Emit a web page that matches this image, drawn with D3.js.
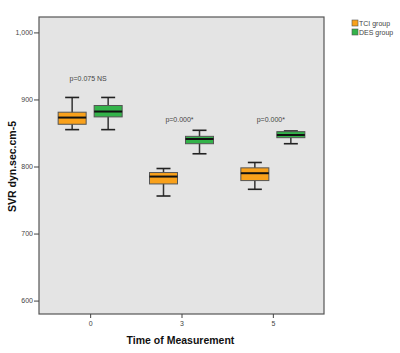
<!DOCTYPE html>
<html lang="en">
<head>
    <meta charset="UTF-8">
    <title>SVR by time of measurement</title>
    <script src="https://d3js.org/d3.v7.min.js"></script>
    <style>
        body { margin: 0; background: #fff; }
        .axis text { font-family: Arial, "Liberation Sans", sans-serif; font-size: 7px; fill: #444; }
        .axis path, .axis line { stroke: #444; }
        .title { font-family: Arial, "Liberation Sans", sans-serif; font-weight: bold; font-size: 10.5px; fill: #111; }
        .note { font-family: Arial, "Liberation Sans", sans-serif; font-size: 7px; fill: #444; }
    </style>
</head>
<body>
<svg width="400" height="353"></svg>
<script>
    // Categories and groups
    const times = ["0", "3", "5"];
    const groups = ["TCI group", "DES group"];
    const colors = ["#f9a11b", "#33b34a"];

    // Box statistics per time: [low whisker, q1, median, q3, high whisker]
    const tciStats = [
        [855, 863, 873, 881, 903],
        [756, 774, 785, 791, 797],
        [766, 779, 790, 798, 806]
    ];
    const desStats = [
        [855, 874, 882, 891, 903],
        [819, 834, 841, 845, 854],
        [834, 843, 847, 852, 853]
    ];

    // p-value labels and the SVR level they sit at
    const pLabels = ["p=0.075 NS", "p=0.000*", "p=0.000*"];
    const pLevels = [927, 866, 866];

    const yTicks = [600, 700, 800, 900, 1000];

    const margin = {top: 17, right: 76, bottom: 39, left: 39},
        width = 400 - margin.left - margin.right,
        height = 353 - margin.top - margin.bottom;

    const svg = d3.select("svg");
    const g = svg.append("g")
        .attr("transform", "translate(" + margin.left + "," + margin.top + ")");

    const x = d3.scalePoint().domain(times).range([0, width]).padding(0.56);
    const y = d3.scaleLinear().domain([580, 1023]).range([height, 0]);

    // plot background
    g.append("rect")
        .attr("width", width)
        .attr("height", height)
        .attr("fill", "#e4e4e4");

    const boxW = 28, offset = 18;
    const series = [tciStats, desStats];

    series.forEach((stats, gi) => {
        const dx = gi === 0 ? -offset : offset;
        stats.forEach((s, i) => {
            const cx = x(times[i]) + dx;
            const bg = g.append("g");
            // whisker stem
            bg.append("line")
                .attr("x1", cx).attr("x2", cx)
                .attr("y1", y(s[0])).attr("y2", y(s[4]))
                .attr("stroke", "#333").attr("stroke-width", 1.5);
            // caps
            [s[0], s[4]].forEach(v => {
                bg.append("line")
                    .attr("x1", cx - boxW / 4).attr("x2", cx + boxW / 4)
                    .attr("y1", y(v)).attr("y2", y(v))
                    .attr("stroke", "#222").attr("stroke-width", 1.6);
            });
            // box
            bg.append("rect")
                .attr("x", cx - boxW / 2)
                .attr("y", y(s[3]))
                .attr("width", boxW)
                .attr("height", y(s[1]) - y(s[3]))
                .attr("fill", colors[gi])
                .attr("stroke", "#555").attr("stroke-width", 1);
            // median
            bg.append("line")
                .attr("x1", cx - boxW / 2).attr("x2", cx + boxW / 2)
                .attr("y1", y(s[2])).attr("y2", y(s[2]))
                .attr("stroke", "#111").attr("stroke-width", 2);
        });
    });

    // p-value notes
    g.selectAll(".note")
        .data(pLabels)
        .join("text")
        .attr("class", "note")
        .attr("x", (d, i) => x(times[i]) - 2)
        .attr("y", (d, i) => y(pLevels[i]))
        .attr("text-anchor", "middle")
        .text(d => d);

    // frame
    g.append("rect")
        .attr("width", width)
        .attr("height", height)
        .attr("fill", "none")
        .attr("stroke", "#555")
        .attr("stroke-width", 1.2);

    // axes
    g.append("g")
        .attr("class", "axis")
        .attr("transform", "translate(0," + height + ")")
        .call(d3.axisBottom(x).tickSize(4).tickPadding(3))
        .call(a => a.select(".domain").remove());

    g.append("g")
        .attr("class", "axis")
        .call(d3.axisLeft(y).tickValues(yTicks).tickFormat(d3.format(",")).tickSize(5).tickPadding(1))
        .call(a => a.select(".domain").remove());

    // axis titles
    g.append("text")
        .attr("class", "title")
        .attr("x", width / 2 - 1)
        .attr("y", height + 30)
        .attr("text-anchor", "middle")
        .text("Time of Measurement");

    svg.append("text")
        .attr("class", "title")
        .attr("transform", "translate(16," + (margin.top + y(800)) + ") rotate(-90)")
        .attr("text-anchor", "middle")
        .text("SVR dyn.sec.cm-5");

    // legend
    const legend = svg.append("g").attr("transform", "translate(352,20)");
    groups.forEach((name, i) => {
        legend.append("rect")
            .attr("x", 0).attr("y", i * 9)
            .attr("width", 6).attr("height", 6)
            .attr("fill", colors[i])
            .attr("stroke", "#555").attr("stroke-width", 0.6);
        legend.append("text")
            .attr("class", "note")
            .attr("x", 7).attr("y", i * 9 + 5.5)
            .attr("fill", "#222")
            .text(name);
    });
</script>
</body>
</html>
